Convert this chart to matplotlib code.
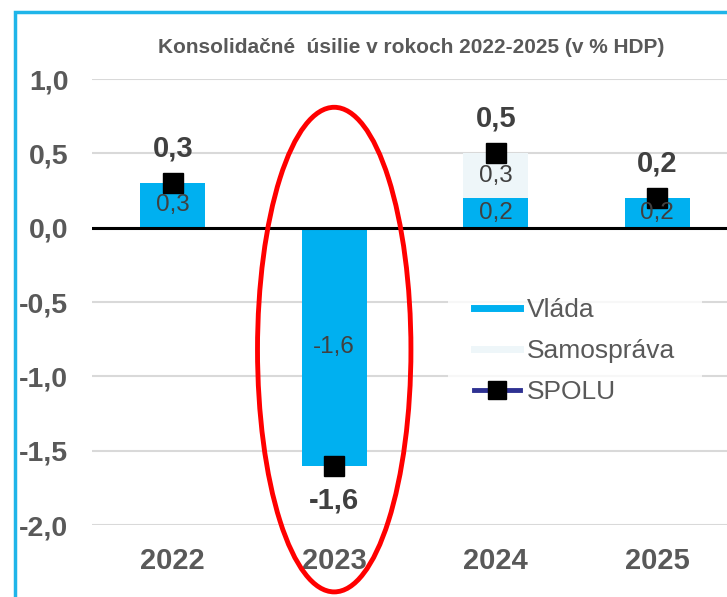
import matplotlib
matplotlib.use('Agg')
import numpy as np
from matplotlib import pyplot as plt
from matplotlib.patches import Ellipse, Rectangle
from matplotlib.lines import Line2D

plt.rcParams['font.family'] = ['Liberation Sans', 'DejaVu Sans']

# data
years = ['2022', '2023', '2024', '2025']
vlada = [0.3, -1.6, 0.2, 0.2]
samosprava = [0.0, 0.0, 0.3, 0.0]
spolu = [0.3, -1.6, 0.5, 0.2]
yTicks = [1.0, 0.5, 0.0, -0.5, -1.0, -1.5, -2.0]

blue = '#00B0F0'
light = '#EEF6F9'
navy = '#2E3192'
gray = '#595959'
dark = '#404040'

fig = plt.figure(figsize=(7.27, 5.97), dpi=100)
ax = fig.add_axes([0.1265, 0.1206, 0.8886, 0.747])

x = np.arange(len(years))
barVlada = ax.bar(x, vlada, width=0.4, color=blue, zorder=2)
barSamo = ax.bar(x, samosprava, width=0.4, bottom=vlada, color=light, zorder=2)
ax.plot(x, spolu, linestyle='none', marker='s', markersize=14,
        color='black', zorder=4)

# inner labels
for i, v in enumerate(vlada):
    ax.text(i, v / 2, '{:.1f}'.format(v).replace('.', ','), ha='center',
            va='center', fontsize=17.5, color=dark, zorder=5)
for i, s in enumerate(samosprava):
    if s != 0:
        ax.text(i, vlada[i] + s / 2, '{:.1f}'.format(s).replace('.', ','),
                ha='center', va='center', fontsize=17.5, color=dark, zorder=5)

# totals
for i, t in enumerate(spolu):
    off = 25 if t >= 0 else -25
    ax.annotate('{:.1f}'.format(t).replace('.', ','), (i, t),
                xytext=(0, off), textcoords='offset points', ha='center',
                va='center', fontsize=21, fontweight='bold', color=dark,
                zorder=5)

ax.set_xlim(-0.5, 3.5)
ax.set_ylim(-2.0, 1.0)
ax.set_yticks(yTicks)
ax.set_yticklabels(['{:.1f}'.format(t).replace('.', ',') for t in yTicks],
                   fontsize=20.5, fontweight='bold', color=gray)
ax.set_xticks(x)
ax.set_xticklabels(years, fontsize=21, fontweight='bold', color=gray)
ax.tick_params(axis='y', length=0, pad=17)
ax.tick_params(axis='x', length=0, pad=16)
for sp in ax.spines.values():
    sp.set_visible(False)
ax.grid(axis='y', color='#D9D9D9', linewidth=1.5, zorder=0)
ax.set_axisbelow(True)
ax.axhline(0, color='black', linewidth=2.2, zorder=3)

# red ellipse
ax.add_patch(Ellipse((1, -0.82), 0.95, 3.26, fill=False, edgecolor='#FF0000',
                     linewidth=3.5, clip_on=False, zorder=6))

# legend
handles = [Line2D([], [], color=blue, linewidth=5),
           Line2D([], [], color=light, linewidth=5),
           Line2D([], [], color=navy, linewidth=3.5, marker='s',
                  markersize=13, markerfacecolor='black',
                  markeredgecolor='black')]
leg = ax.legend(handles, ['Vláda', 'Samospráva', 'SPOLU'],
                loc='center left', bbox_to_anchor=(0.551, 0.39),
                fontsize=19, frameon=True, handlelength=1.75,
                handletextpad=0.25, labelspacing=0.65, borderaxespad=0,
                borderpad=1.0)
leg.get_frame().set_facecolor('white')
leg.get_frame().set_edgecolor('none')
for t in leg.get_texts():
    t.set_color(gray)

fig.text(0.565, 0.921, 'Konsolidačné  úsilie v rokoch 2022-2025 (v % HDP)',
         ha='center', va='center', fontsize=15, fontweight='bold',
         color=gray)

# frame of the picture
fig.add_artist(Rectangle((0.0206, -0.2), 1.2, 1.18, transform=fig.transFigure,
                         fill=False, edgecolor='#1FB5E9', linewidth=2.5))

fig.savefig('out.png', dpi=100)
